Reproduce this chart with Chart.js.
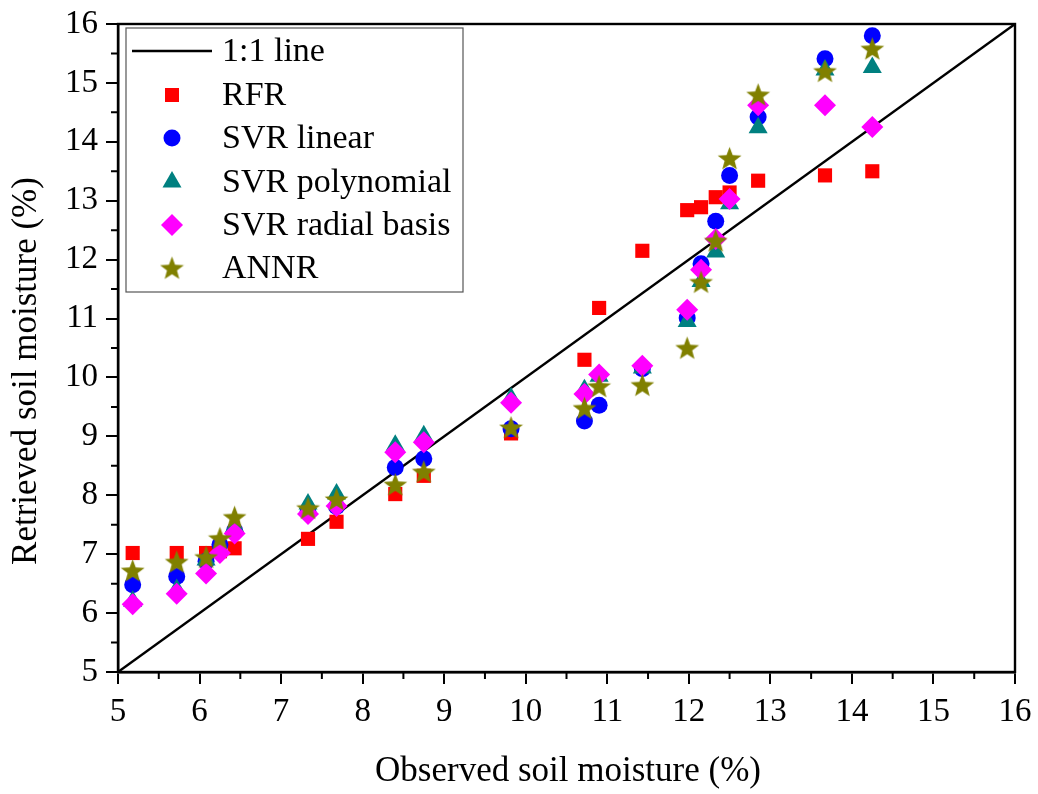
<!DOCTYPE html>
<html>
<head>
<meta charset="utf-8">
<script src="https://cdn.jsdelivr.net/npm/chart.js@4.4.0/dist/chart.umd.min.js"></script>
<style>
  html, body { margin: 0; padding: 0; background: #fff; }
  #wrap { width: 1038px; height: 794px; }
</style>
</head>
<body>
<div id="wrap"><canvas id="myChart" width="1038" height="794"></canvas></div>
<script>
  // observed values (x) shared by every model
  const observed = [5.18, 5.72, 6.08, 6.25, 6.43, 7.33, 7.68, 8.40, 8.75, 9.82,
    10.72, 10.90, 11.43, 11.98, 12.15, 12.33, 12.50, 12.85, 13.67, 14.25];

  // retrieved values (y) per model
  const rfr = [7.02, 7.02, 7.02, 7.05, 7.10, 7.26, 7.55, 8.02, 8.33, 9.05,
    10.30, 11.18, 12.15, 12.84, 12.89, 13.06, 13.14, 13.34, 13.43, 13.50];
  const svrLinear = [6.48, 6.62, 6.88, 7.16, 7.40, 7.71, 7.81, 8.47, 8.62, 9.13,
    9.26, 9.53, 10.15, 11.01, 11.93, 12.65, 13.43, 14.42, 15.41, 15.80];
  const svrPoly = [6.20, 6.40, 6.90, 7.10, 7.47, 7.85, 8.02, 8.85, 9.01, 9.65,
    9.79, 10.02, 10.16, 10.95, 11.63, 12.13, 12.95, 14.24, 15.22, 15.26];
  const svrRadial = [6.15, 6.33, 6.67, 7.02, 7.35, 7.68, 7.82, 8.73, 8.90, 9.57,
    9.72, 10.05, 10.20, 11.15, 11.83, 12.35, 13.03, 14.62, 14.62, 14.25];
  const annr = [6.72, 6.87, 6.95, 7.27, 7.63, 7.78, 7.93, 8.18, 8.40, 9.15,
    9.48, 9.85, 9.87, 10.50, 11.62, 12.32, 13.72, 14.80, 15.20, 15.58];

  const oneToOne = [5, 16];
  const tickValues = [5, 6, 7, 8, 9, 10, 11, 12, 13, 14, 15, 16];

  const serif = "'Liberation Serif', 'DejaVu Serif', serif";

  function toPoints(ys) {
    return observed.map((x, i) => ({ x: x, y: ys[i] }));
  }

  // filled five-point star for ANNR
  function makeStar(color, size) {
    const c = document.createElement("canvas");
    c.width = size;
    c.height = size;
    const g = c.getContext("2d");
    const cx = size / 2, cy = size / 2 + 1;
    const outer = size / 2, inner = outer * 0.42;
    g.beginPath();
    for (let i = 0; i < 10; i++) {
      const r = i % 2 === 0 ? outer : inner;
      const a = -Math.PI / 2 + (i * Math.PI) / 5;
      const px = cx + r * Math.cos(a);
      const py = cy + r * Math.sin(a);
      if (i === 0) g.moveTo(px, py); else g.lineTo(px, py);
    }
    g.closePath();
    g.fillStyle = color;
    g.fill();
    return c;
  }
  const starImg = makeStar("#808000", 25);

  const series = [
    { label: "RFR", data: rfr, color: "#ff0000", style: "rect", radius: 10, order: 5 },
    { label: "SVR linear", data: svrLinear, color: "#0000ff", style: "circle", radius: 8.5, order: 4 },
    { label: "SVR polynomial", data: svrPoly, color: "#008080", style: "triangle", radius: 11, order: 3 },
    { label: "SVR radial basis", data: svrRadial, color: "#ff00ff", style: "rectRot", radius: 11, order: 2 },
    { label: "ANNR", data: annr, color: "#808000", style: starImg, radius: 12, order: 1 },
  ];

  const datasets = [
    {
      type: "line",
      label: "1:1 line",
      data: oneToOne.map((v) => ({ x: v, y: v })),
      borderColor: "#000",
      borderWidth: 2.4,
      pointRadius: 0,
      fill: false,
      order: 6,
    },
  ].concat(series.map((s) => ({
    type: "scatter",
    label: s.label,
    data: toPoints(s.data),
    backgroundColor: s.color,
    borderColor: s.color,
    borderWidth: 0,
    pointStyle: s.style,
    pointRadius: s.radius,
    order: s.order,
  })));

  // frame, minor ticks, axis titles and legend box
  const framePlugin = {
    id: "frame",
    afterDraw(chart) {
      const { ctx, chartArea: a, scales } = chart;
      ctx.save();
      ctx.strokeStyle = "#000";
      ctx.lineWidth = 2.4;
      ctx.strokeRect(a.left, a.top, a.right - a.left, a.bottom - a.top);

      // minor ticks at halves
      ctx.lineWidth = 2;
      ctx.beginPath();
      for (let v = 5.5; v < 16; v += 1) {
        const px = scales.x.getPixelForValue(v);
        ctx.moveTo(px, a.bottom);
        ctx.lineTo(px, a.bottom + 7);
        const py = scales.y.getPixelForValue(v);
        ctx.moveTo(a.left, py);
        ctx.lineTo(a.left - 7, py);
      }
      ctx.stroke();

      // axis titles
      ctx.fillStyle = "#000";
      ctx.font = "35px " + serif;
      ctx.textAlign = "center";
      ctx.textBaseline = "middle";
      ctx.fillText("Observed soil moisture (%)", 568, 772);
      ctx.save();
      ctx.translate(27, 371);
      ctx.rotate(-Math.PI / 2);
      ctx.fillText("Retrieved soil moisture (%)", 0, 0);
      ctx.restore();

      // legend
      const lx = 126, ly = 28, lw = 337, lh = 264;
      ctx.fillStyle = "#fff";
      ctx.fillRect(lx, ly, lw, lh);
      ctx.strokeStyle = "#555";
      ctx.lineWidth = 1.2;
      ctx.strokeRect(lx, ly, lw, lh);

      const rowY = [51, 95, 138, 182, 225, 268];
      const mx = 172;
      ctx.font = "34px " + serif;
      ctx.textAlign = "left";
      ctx.textBaseline = "middle";
      ctx.fillStyle = "#000";

      ctx.strokeStyle = "#000";
      ctx.lineWidth = 2.4;
      ctx.beginPath();
      ctx.moveTo(132, rowY[0]);
      ctx.lineTo(212, rowY[0]);
      ctx.stroke();
      ctx.fillText("1:1 line", 222, rowY[0] + 1);

      series.forEach((s, i) => {
        const y = rowY[i + 1];
        ctx.fillStyle = s.color;
        ctx.beginPath();
        if (s.style === "rect") {
          ctx.rect(mx - 7, y - 7, 14, 14);
        } else if (s.style === "circle") {
          ctx.arc(mx, y, 8.5, 0, Math.PI * 2);
        } else if (s.style === "triangle") {
          ctx.moveTo(mx, y - 11);
          ctx.lineTo(mx + 9.5, y + 5.5);
          ctx.lineTo(mx - 9.5, y + 5.5);
          ctx.closePath();
        } else if (s.style === "rectRot") {
          ctx.moveTo(mx, y - 11);
          ctx.lineTo(mx + 11, y);
          ctx.lineTo(mx, y + 11);
          ctx.lineTo(mx - 11, y);
          ctx.closePath();
        }
        ctx.fill();
        if (typeof s.style !== "string") {
          ctx.drawImage(s.style, mx - 12.5, y - 12.5, 25, 25);
        }
        ctx.fillStyle = "#000";
        ctx.fillText(s.label, 222, y + 1);
      });
      ctx.restore();
    },
  };

  const ctx = document.getElementById("myChart");
  const myChart = new Chart(ctx, {
    data: { datasets: datasets },
    plugins: [framePlugin],
    options: {
      responsive: false,
      animation: false,
      layout: { padding: { top: 24, right: 23, left: 0, bottom: 0 } },
      plugins: {
        legend: { display: false },
        tooltip: { enabled: false },
      },
      scales: {
        x: {
          type: "linear",
          min: 5,
          max: 16,
          afterBuildTicks: (scale) => {
            scale.ticks = tickValues.map((v) => ({ value: v }));
          },
          afterFit: (scale) => {
            scale.height = 122;
            scale.paddingLeft = 0;
            scale.paddingRight = 0;
          },
          border: { display: true, color: "#000", width: 2.4 },
          grid: { drawOnChartArea: false, drawTicks: true, tickLength: 12, color: "#000", lineWidth: 2 },
          ticks: { color: "#000", font: { family: serif, size: 33 }, padding: 9, maxRotation: 0 },
        },
        y: {
          type: "linear",
          min: 5,
          max: 16,
          afterBuildTicks: (scale) => {
            scale.ticks = tickValues.map((v) => ({ value: v }));
          },
          afterFit: (scale) => {
            scale.width = 118;
            scale.paddingTop = 0;
            scale.paddingBottom = 0;
          },
          border: { display: true, color: "#000", width: 2.4 },
          grid: { drawOnChartArea: false, drawTicks: true, tickLength: 12, color: "#000", lineWidth: 2 },
          ticks: { color: "#000", font: { family: serif, size: 33 }, padding: 8 },
        },
      },
    },
  });
</script>
</body>
</html>
